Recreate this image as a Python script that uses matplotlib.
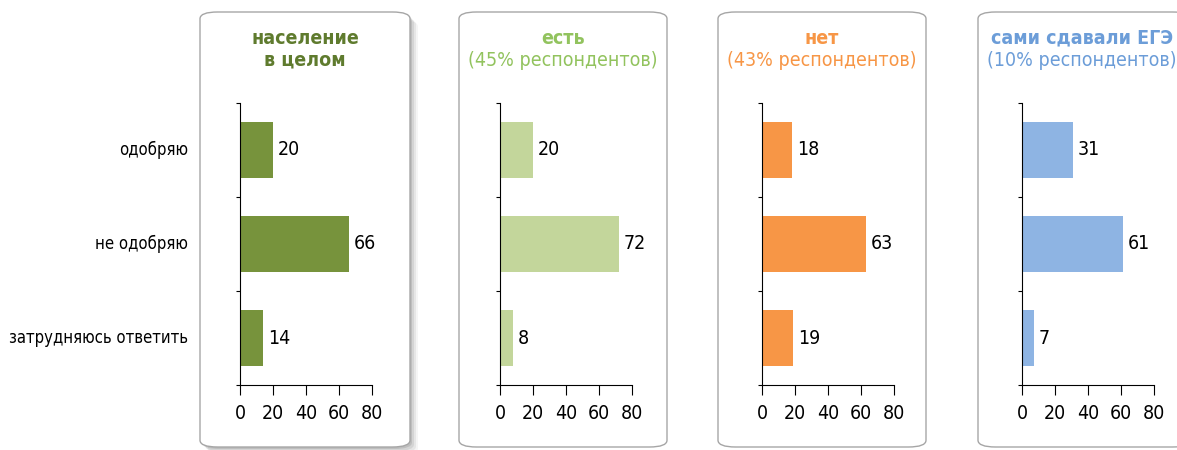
import matplotlib.pyplot as plt
from matplotlib.patches import FancyBboxPatch

plt.rcParams['font.family'] = ['Liberation Sans Narrow', 'DejaVu Sans']
plt.rcParams['font.stretch'] = 'condensed'

categories = ["одобряю", "не одобряю", "затрудняюсь ответить"]
titles = ["население\nв целом", "есть", "нет", "сами сдавали ЕГЭ"]
subtitles = ["", "(45% респондентов)", "(43% респондентов)", "(10% респондентов)"]
values = [
    [20, 66, 14],
    [20, 72, 8],
    [18, 63, 19],
    [31, 61, 7],
]
bar_colors = ["#77933C", "#C3D69B", "#F79646", "#8EB4E3"]
title_colors = ["#5F7B2E", "#92C35E", "#F79646", "#6C9DD8"]
x_ticks = [0, 20, 40, 60, 80]

W, H = 1177, 450
fig = plt.figure(figsize=(W / 100, H / 100), dpi=100)


def fx(px):
    return px / W


def fy(py):
    return 1 - py / H


# panel frames (pixel coords: left, right)
boxes = [(200, 410), (459, 667), (718, 926), (978, 1190)]
box_top, box_bottom = 12, 447
title_x = [305, 563, 822, 1082]

# shadow for the first panel
for k, a in enumerate([0.10, 0.08, 0.06, 0.04]):
    off = 2 + k * 2
    sh = FancyBboxPatch((fx(boxes[0][0] + off), fy(box_bottom + off)),
                        fx(boxes[0][1] - boxes[0][0]), (box_bottom - box_top) / H,
                        boxstyle="round,pad=0,rounding_size=0.015",
                        transform=fig.transFigure, facecolor="black",
                        edgecolor="none", alpha=a, zorder=0)
    fig.patches.append(sh)

for i, (l, r) in enumerate(boxes):
    box = FancyBboxPatch((fx(l), fy(box_bottom)), fx(r - l), (box_bottom - box_top) / H,
                         boxstyle="round,pad=0,rounding_size=0.015",
                         transform=fig.transFigure, facecolor="white",
                         edgecolor="#A6A6A6", linewidth=1.0, zorder=1)
    fig.patches.append(box)

axes_left = [240, 500, 762, 1022]
axes_w = 132
ax_top, ax_bot = 103, 385

for i in range(4):
    ax = fig.add_axes([fx(axes_left[i]), fy(ax_bot), fx(axes_w), (ax_bot - ax_top) / H])
    ax.patch.set_alpha(0)
    ax.set_zorder(3)
    ypos = list(range(len(categories)))
    ax.barh(ypos, values[i], height=0.6, color=bar_colors[i])
    for y, v in zip(ypos, values[i]):
        ax.text(v + 3, y, str(v), va="center", ha="left", fontsize=14)
    ax.set_xlim(0, 80)
    ax.set_ylim(2.5, -0.5)
    ax.set_xticks(x_ticks)
    ax.set_xticklabels([str(t) for t in x_ticks], fontsize=14)
    ax.set_yticks([-0.5, 0.5, 1.5, 2.5])
    ax.set_yticklabels([])
    ax.tick_params(axis="y", length=3, width=0.8, direction="out")
    ax.tick_params(axis="x", length=7, width=0.8, direction="out", pad=7)
    ax.spines["top"].set_visible(False)
    ax.spines["right"].set_visible(False)

    if i == 0:
        fig.text(fx(title_x[i]), fy(49), titles[i], ha="center", va="center", fontsize=14,
                 fontweight="bold", color=title_colors[i], linespacing=1.15)
    else:
        fig.text(fx(title_x[i]), fy(38), titles[i], ha="center", va="center", fontsize=14,
                 fontweight="bold", color=title_colors[i])
        fig.text(fx(title_x[i]), fy(61), subtitles[i], ha="center", va="center", fontsize=14,
                 color=title_colors[i])

for j, c in enumerate(categories):
    fig.text(fx(188), fy(ax_top + 47 + 94 * j), c, ha="right", va="center", fontsize=12)

fig.savefig("out.png", dpi=100)
